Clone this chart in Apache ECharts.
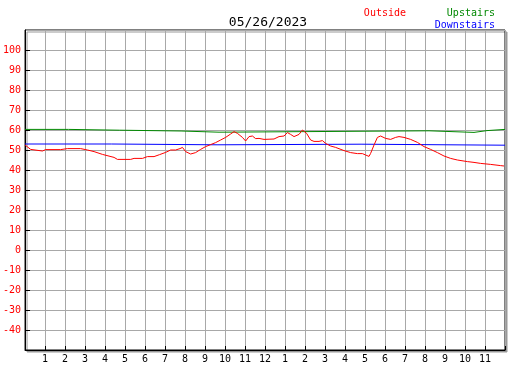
<!DOCTYPE html>
<html>
<head>
<meta charset="utf-8">
<script src="https://cdn.jsdelivr.net/npm/echarts@6/dist/echarts.min.js"></script>
<style>
  html, body { margin: 0; padding: 0; background: #fff; }
  #myChart { width: 527px; height: 370px; }
</style>
</head>
<body>
<div id="myChart"></div>
<script>
// hour of day -> label (12h clock), 0 and 24 left blank
const hourLabels = ["", "1", "2", "3", "4", "5", "6", "7", "8", "9", "10", "11",
  "12", "1", "2", "3", "4", "5", "6", "7", "8", "9", "10", "11", ""];

// Outside (red)
const outsideHours = [0, 0.28, 0.87, 1.03, 1.78, 2.12, 2.78, 3.12, 3.45, 3.87, 4.45, 4.62, 5.28, 5.45,
  5.87, 5.95, 6.12, 6.45, 6.73, 7.03, 7.28, 7.53, 7.75, 7.87, 8.03, 8.28, 8.53, 8.78, 9.03, 9.28,
  9.53, 9.78, 10.03, 10.28, 10.45, 10.62, 10.87, 11.03, 11.2, 11.37, 11.53, 11.7, 11.95, 12.45,
  12.7, 12.95, 13.12, 13.28, 13.45, 13.7, 13.87, 13.95, 14.08, 14.28, 14.45, 14.7, 14.87, 15.03,
  15.28, 15.53, 15.95, 16.28, 16.62, 16.87, 17.03, 17.2, 17.28, 17.45, 17.62, 17.78, 18.03, 18.28,
  18.53, 18.7, 18.95, 19.28, 19.62, 19.95, 20.28, 20.62, 20.95, 21.28, 21.62, 22.12, 22.45, 22.53,
  22.78, 23.28, 23.78, 23.95];
const outsideTemps = [52.5, 50.3, 49.5, 50.2, 50.2, 50.7, 50.7, 50, 49.2, 47.8, 46.3, 45.3, 45.3, 45.8,
  45.8, 45.3, 46.7, 46.7, 47.7, 48.8, 50, 50, 50.7, 51.3, 49.2, 48, 48.7, 50.3, 51.7, 52.7,
  53.7, 55, 56.3, 58, 59.2, 58.3, 56.3, 54.5, 56.7, 57, 55.7, 55.8, 55.3, 55.5,
  56.7, 57, 58.7, 57.8, 56.7, 57.8, 60, 61, 58.3, 55, 54.3, 54.3, 54.7, 53.3,
  52, 51.3, 49.7, 48.7, 48.2, 48.2, 47.5, 46.8, 48.3, 52.5, 56.3, 57, 55.8, 55.3,
  56.3, 56.7, 56.3, 55.3, 53.8, 51.7, 50.3, 48.7, 47, 45.8, 45, 44.2, 43.8, 44.3,
  43.3, 42.8, 42.2, 42];

// Upstairs (green), value holds until next change
const upstairsHours = [0, 2.17, 4.72, 7.8, 9.7, 20.2, 22.45, 23.1, 24];
const upstairsTemps = [60.3, 59.9, 59.5, 58.9, 59.6, 58.8, 59.7, 60.3, 60.3];

// Downstairs (blue)
const downstairsHours = [0, 4.33, 9.6, 16.8, 24];
const downstairsTemps = [53, 52.6, 52.9, 52.4, 52.4];

const pair = (xs, ys) => xs.map((x, i) => [x, ys[i]]);

const font = "DejaVu Sans Mono";
const myChart = echarts.init(document.getElementById("myChart"));

myChart.setOption({
  animation: false,
  title: [
    {
      text: "05/26/2023",
      left: 263,
      top: 11,
      textAlign: "center",
      textStyle: { fontFamily: font, fontSize: 13, fontWeight: "normal", color: "#000" }
    },
    {
      text: "Outside",
      right: 116,
      top: 3,
      textStyle: { fontFamily: font, fontSize: 10, fontWeight: "normal", color: "#ff0000" }
    },
    {
      text: "Upstairs",
      right: 27,
      top: 3,
      textStyle: { fontFamily: font, fontSize: 10, fontWeight: "normal", color: "#008800" }
    },
    {
      text: "Downstairs",
      right: 27,
      top: 15,
      textStyle: { fontFamily: font, fontSize: 10, fontWeight: "normal", color: "#0000ff" }
    }
  ],
  grid: {
    left: 25,
    top: 30,
    right: 22,
    bottom: 20,
    show: true,
    backgroundColor: "#fff",
    borderColor: "#000",
    borderWidth: 1,
    shadowColor: "#999",
    shadowBlur: 0,
    shadowOffsetX: 2,
    shadowOffsetY: 2
  },
  xAxis: {
    type: "value",
    min: 0,
    max: 24,
    interval: 1,
    axisLine: { onZero: false, lineStyle: { color: "#000" } },
    axisTick: { inside: true, length: 4, lineStyle: { color: "#000" } },
    axisLabel: {
      margin: 4,
      fontFamily: font,
      fontSize: 10,
      color: "#000",
      formatter: v => hourLabels[v]
    },
    splitLine: { show: true, lineStyle: { color: "#a8a8a8", width: 1 } }
  },
  yAxis: {
    type: "value",
    min: -50,
    max: 110,
    interval: 10,
    axisLine: { show: true, onZero: false, lineStyle: { color: "#000" } },
    axisTick: { show: true, inside: true, length: 5, lineStyle: { color: "#000" } },
    axisLabel: {
      margin: 4,
      fontFamily: font,
      fontSize: 10,
      color: "#ff0000",
      showMinLabel: false,
      showMaxLabel: false
    },
    splitLine: { show: true, lineStyle: { color: "#a8a8a8", width: 1 } }
  },
  series: [
    {
      name: "Upstairs",
      type: "line",
      step: "end",
      symbol: "none",
      lineStyle: { color: "#008800", width: 1 },
      data: pair(upstairsHours, upstairsTemps)
    },
    {
      name: "Downstairs",
      type: "line",
      step: "end",
      symbol: "none",
      lineStyle: { color: "#0000ff", width: 1 },
      data: pair(downstairsHours, downstairsTemps)
    },
    {
      name: "Outside",
      type: "line",
      symbol: "none",
      lineStyle: { color: "#ff0000", width: 1 },
      data: pair(outsideHours, outsideTemps)
    }
  ]
});
</script>
</body>
</html>
